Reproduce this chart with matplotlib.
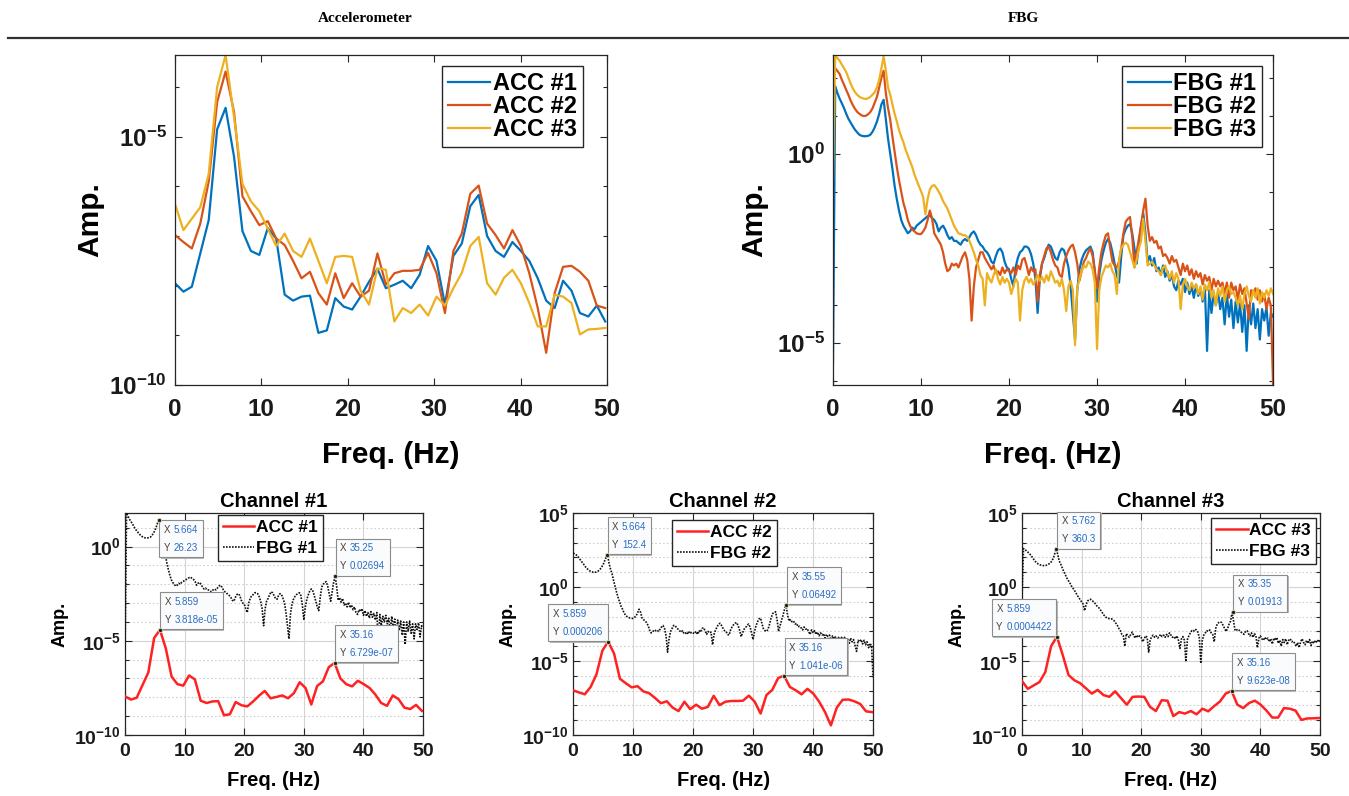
import numpy as np
import matplotlib
matplotlib.use("Agg")
import matplotlib.pyplot as plt
from matplotlib.patches import Rectangle
from matplotlib.transforms import Bbox, IdentityTransform
from matplotlib.ticker import FixedLocator, FuncFormatter, NullFormatter, NullLocator

plt.rcParams['font.family'] = ['Liberation Sans', 'DejaVu Sans']
plt.rcParams['mathtext.fontset'] = 'custom'
plt.rcParams['mathtext.bf'] = 'Liberation Sans:bold'
plt.rcParams['mathtext.rm'] = 'Liberation Sans:bold'

# ---- data (log10 of amplitude) ----
# accelerometer spectra, bin width 0.9766 Hz
acc_df = 0.9766
acc1_log = [-7.95, -8.12, -8.02, -7.35, -6.68, -4.85, -4.418, -5.4, -6.9, -7.3,
            -7.38, -6.84, -7.05, -8.18, -8.3, -8.22, -8.2, -8.95, -8.9, -8.25,
            -8.42, -8.48, -8.22, -7.92, -7.66, -8.05, -7.98, -7.9, -8.05, -7.78,
            -7.2, -7.5, -8.38, -7.4, -7.15, -6.4, -6.172, -7.0, -7.3, -7.42,
            -7.12, -7.3, -7.5, -7.85, -8.3, -8.45, -7.9, -8.1, -8.55, -8.62,
            -8.4, -8.72]
acc2_log = [-6.98, -7.12, -7.25, -6.75, -5.9, -4.3, -3.686, -4.5, -6.2, -6.5,
            -6.78, -6.7, -7.05, -7.18, -7.5, -7.85, -7.72, -8.15, -8.38, -7.75,
            -8.25, -7.95, -8.22, -8.1, -7.35, -7.98, -7.75, -7.7, -7.7, -7.68,
            -7.34, -7.75, -8.55, -7.3, -6.95, -6.15, -5.983, -6.75, -6.98, -7.25,
            -6.88, -7.2, -7.75, -8.45, -9.35, -8.15, -7.62, -7.6, -7.72, -7.9,
            -8.4, -8.45]
acc3_log = [-6.35, -6.88, -6.65, -6.42, -5.75, -4.0, -3.354, -4.6, -5.95, -6.3,
            -6.5, -6.85, -7.2, -6.95, -7.3, -7.42, -7.05, -7.5, -7.95, -7.42,
            -7.4, -7.42, -8.1, -8.38, -7.65, -7.68, -8.72, -8.45, -8.55, -8.38,
            -8.6, -8.22, -8.4, -8.05, -7.74, -7.2, -7.017, -7.95, -8.18, -7.84,
            -7.68, -7.95, -8.35, -8.82, -8.82, -8.18, -8.22, -8.35, -8.98, -8.88,
            -8.87, -8.85]

# FBG spectra, read every 0.25 Hz
fbg_df = 0.25
fbg1_log = [-5.5, 1.78, 1.6, 1.45, 1.33, 1.2, 1.05, 0.92, 0.82, 0.72, 0.63, 0.56, 0.5, 0.47, 0.46, 0.46, 0.47, 0.5, 0.58, 0.7,
            0.85, 1.05, 1.3, 1.419, 0.9, 0.4, 0.0, -0.4, -0.85, -1.2, -1.5, -1.75, -1.9, -2.0, -2.1, -2.05, -1.95, -2.0, -1.9, -1.85,
            -1.8, -1.75, -1.7, -1.65, -1.62, -1.7, -1.75, -1.85, -2.05, -1.95, -1.9, -2.0, -2.15, -2.25, -2.2, -2.3, -2.3, -2.35, -2.4, -2.3,
            -2.25, -2.3, -2.2, -2.1, -2.05, -2.15, -2.3, -2.4, -2.45, -2.55, -2.6, -2.7, -2.85, -2.9, -2.7, -2.55, -2.5, -2.6, -2.85, -3.0,
            -3.05, -3.3, -3.5, -3.0, -2.75, -2.6, -2.55, -2.45, -2.45, -2.5, -2.65, -2.9, -3.3, -4.2, -3.3, -2.9, -2.75, -2.55, -2.4, -2.45,
            -2.6, -2.75, -2.8, -2.6, -2.5, -2.55, -2.75, -3.0, -3.5, -4.2, -4.9, -3.6, -3.05, -2.8, -2.65, -2.55, -2.5, -2.45, -2.6, -3.1,
            -3.9, -3.2, -2.8, -2.55, -2.35, -2.25, -2.35, -2.6, -2.9, -3.2, -3.4, -2.7, -2.15, -2.0, -1.9, -1.86, -2.1, -2.5, -2.9, -2.4,
            -1.9, -1.57, -2.1, -2.85, -2.7, -2.95, -2.75, -3.1, -3.0, -3.2, -2.95, -3.25, -3.1, -3.35, -3.2, -3.5, -3.6, -3.35, -3.45, -3.3,
            -3.65, -3.4, -3.7, -3.5, -3.8, -3.45, -3.75, -3.55, -3.9, -3.5, -5.2, -3.6, -4.2, -3.7, -4.0, -3.65, -4.1, -3.8, -4.5, -3.7,
            -4.3, -3.85, -4.6, -3.9, -4.45, -3.95, -4.7, -4.0, -5.2, -4.0, -4.5, -3.95, -4.6, -4.1, -4.9, -4.1, -4.4, -4.05, -4.8, -4.2, -4.3]
fbg2_log = [2.28, 2.25, 2.18, 2.1, 1.95, 1.82, 1.68, 1.55, 1.4, 1.28, 1.18, 1.1, 1.05, 1.01, 0.99, 1.0, 1.04, 1.1, 1.2, 1.35,
            1.5, 1.75, 2.0, 2.183, 1.6, 1.2, 0.9, 0.45, 0.05, -0.35, -0.7, -1.0, -1.3, -1.5, -1.75, -1.9, -2.0, -2.05, -2.1, -2.12,
            -2.12, -2.05, -1.95, -1.75, -1.5, -1.7, -2.1, -2.2, -2.3, -2.4, -2.6, -2.9, -3.1, -3.05, -2.9, -2.95, -2.9, -3.0, -2.85, -2.7,
            -2.6, -2.8, -3.3, -4.4, -3.5, -3.0, -2.8, -2.6, -2.6, -2.75, -2.85, -2.95, -3.05, -2.95, -3.15, -3.1, -3.2, -3.0, -3.15, -3.05,
            -3.1, -3.15, -3.0, -3.2, -2.95, -3.05, -2.8, -2.75, -2.95, -3.2, -3.0, -3.1, -3.05, -3.9, -3.2, -2.9, -2.7, -2.5, -2.45, -2.6,
            -2.8, -2.95, -3.0, -3.2, -3.25, -2.9, -2.7, -2.55, -2.45, -2.4, -2.6, -2.9, -3.35, -3.1, -2.85, -2.75, -2.6, -2.5, -2.7, -3.1,
            -3.55, -3.0, -2.6, -2.35, -2.15, -2.1, -2.5, -2.85, -2.95, -3.0, -2.85, -2.5, -2.1, -1.8, -1.72, -1.67, -2.2, -3.0, -2.6, -2.25,
            -1.9, -1.5, -1.188, -1.9, -2.3, -2.2, -2.35, -2.3, -2.5, -2.45, -2.7, -2.65, -2.75, -2.9, -2.7, -2.85, -2.8, -3.0, -3.2, -2.9,
            -3.1, -2.95, -3.2, -3.05, -3.3, -3.1, -3.25, -3.15, -3.45, -3.2, -3.35, -3.25, -3.6, -3.3, -3.5, -3.35, -3.5, -3.4, -3.7, -3.4,
            -3.8, -3.4, -3.6, -3.5, -3.85, -3.45, -3.7, -3.55, -3.95, -4.35, -3.6, -3.7, -3.55, -3.85, -3.6, -3.9, -3.7, -4.1, -3.8, -4.0, -6.1]
fbg3_log = [-0.7, 2.6, 2.52, 2.45, 2.35, 2.25, 2.15, 2.0, 1.85, 1.72, 1.62, 1.55, 1.5, 1.47, 1.45, 1.44, 1.46, 1.5, 1.56, 1.62,
            1.75, 1.95, 2.25, 2.557, 2.2, 1.75, 1.55, 1.3, 1.05, 0.85, 0.62, 0.45, 0.3, 0.1, -0.05, -0.2, -0.35, -0.55, -0.7, -0.85,
            -0.99, -1.15, -1.6, -1.2, -0.95, -0.85, -0.83, -0.9, -1.0, -1.1, -1.25, -1.35, -1.45, -1.6, -1.75, -1.9, -2.0, -2.1, -2.12, -2.15,
            -2.15, -2.2, -2.3, -2.45, -2.6, -2.8, -2.95, -3.2, -3.3, -4.0, -3.15, -3.3, -3.4, -3.2, -3.05, -3.3, -3.45, -3.25, -3.4, -3.3,
            -3.4, -3.7, -3.5, -3.3, -3.4, -4.4, -3.6, -3.35, -3.25, -3.4, -3.3, -3.45, -3.35, -3.2, -3.35, -3.25, -3.4, -3.2, -3.35, -3.1,
            -3.25, -3.4, -3.35, -3.5, -3.3, -3.6, -4.15, -3.5, -3.35, -3.6, -5.05, -3.55, -3.3, -3.1, -2.95, -3.0, -2.85, -2.9, -3.05, -3.4,
            -5.15, -3.6, -3.25, -3.1, -2.95, -3.0, -2.9, -3.1, -3.2, -3.7, -2.8, -2.5, -2.4, -2.35, -2.4, -2.6, -2.8, -3.0, -2.8, -2.5,
            -2.3, -1.718, -2.3, -2.95, -2.9, -2.85, -2.95, -3.05, -3.1, -3.2, -3.0, -2.95, -3.15, -3.3, -3.1, -3.4, -3.15, -3.3, -4.1, -3.45,
            -3.3, -3.5, -3.6, -3.4, -3.55, -3.45, -3.7, -3.5, -3.85, -3.45, -3.6, -3.4, -3.8, -3.6, -4.0, -3.55, -3.75, -3.5, -3.9, -3.6,
            -3.5, -3.7, -3.65, -3.8, -4.0, -3.75, -4.1, -3.7, -3.5, -3.75, -3.9, -3.6, -3.8, -3.55, -3.95, -3.65, -3.8, -3.6, -3.75, -3.55, -3.7]

acc_labels = ['ACC #1', 'ACC #2', 'ACC #3']
fbg_labels = ['FBG #1', 'FBG #2', 'FBG #3']
channel_titles = ['Channel #1', 'Channel #2', 'Channel #3']

# data tips shown on the channel plots
tip_fbg_x = [5.664, 5.664, 5.762]
tip_fbg_y = [26.23, 152.4, 360.3]
tip_acc_x = [5.859, 5.859, 5.859]
tip_acc_y = [3.818e-05, 0.000206, 0.0004422]
tip_fbg2_x = [35.25, 35.55, 35.35]
tip_fbg2_y = [0.02694, 0.06492, 0.01913]
tip_acc2_x = [35.16, 35.16, 35.16]
tip_acc2_y = [6.729e-07, 1.041e-06, 9.623e-08]

acc_f = np.arange(len(acc1_log)) * acc_df
fbg_f = np.arange(len(fbg1_log)) * fbg_df
acc = [10 ** np.array(a) for a in (acc1_log, acc2_log, acc3_log)]
fbg = [10 ** np.array(a) for a in (fbg1_log, fbg2_log, fbg3_log)]

matlab_colors = ['#0072BD', '#D95319', '#EDB120']
AX_COL = '#262626'
tips = []


def pow_fmt(v, pos):
    return r'$\mathbf{10^{%d}}$' % int(round(np.log10(v)))


def style_axes(ax, major, minor, tick_size, label_size, xpad, ypad, xlpad, ylpad):
    ax.set_yscale('log')
    ax.set_xlim(0, 50)
    ax.xaxis.set_major_locator(FixedLocator([0, 10, 20, 30, 40, 50]))
    ax.xaxis.set_minor_locator(NullLocator())
    ax.yaxis.set_major_locator(FixedLocator(major))
    ax.yaxis.set_minor_locator(FixedLocator(minor))
    ax.yaxis.set_major_formatter(FuncFormatter(pow_fmt))
    ax.yaxis.set_minor_formatter(NullFormatter())
    ax.tick_params(which='both', direction='in', top=True, right=True, colors=AX_COL,
                   labelcolor='#1a1a1a', width=0.8)
    ax.tick_params(which='major', length=5, labelsize=tick_size)
    ax.tick_params(axis='x', which='major', pad=xpad)
    ax.tick_params(axis='y', which='major', pad=ypad)
    ax.tick_params(which='minor', length=3)
    for lab in ax.get_xticklabels():
        lab.set_fontweight('bold')
    for sp in ax.spines.values():
        sp.set_color(AX_COL)
        sp.set_linewidth(0.9)
    ax.set_xlabel('Freq. (Hz)', fontsize=label_size, fontweight='bold', labelpad=xlpad)
    ax.set_ylabel('Amp.', fontsize=label_size, fontweight='bold', labelpad=ylpad)


def datatip(ax, x, y, corner):
    ax.plot(x, y, 'o', ms=3, mfc='#1e1e1e', mec='#d8d8b0', mew=0.6, zorder=8)
    nums = '%.4g\n%.4g' % (x, y)
    kw = dict(fontsize=7, linespacing=2.0, zorder=7, textcoords='offset points')
    if corner == 'br':
        num = ax.annotate(nums, xy=(x, y), xytext=(-3.6, 3.6), ha='right', va='bottom',
                          ma='left', color='#2b6cc4', **kw)
        lab = ax.annotate('X\nY', xy=(0, 1), xycoords=num, xytext=(-2.5, 0), ha='right',
                          va='top', color='#4a4038', **kw)
    else:
        dy, va = (-3.6, 'top') if corner == 'tl' else (3.6, 'bottom')
        lab = ax.annotate('X\nY', xy=(x, y), xytext=(3.6, dy), ha='left', va=va,
                          color='#4a4038', **kw)
        num = ax.annotate(nums, xy=(1, 1), xycoords=lab, xytext=(2.5, 0), ha='left',
                          va='top', ma='left', color='#2b6cc4', **kw)
    tips.append((ax, lab, num))


fig = plt.figure(figsize=(13.49, 7.96), dpi=100)

# header row
fig.text(0.2706, 0.977, 'Accelerometer', ha='center', va='center', fontsize=11,
         fontweight='bold', family='Liberation Serif')
fig.text(0.759, 0.977, 'FBG', ha='center', va='center', fontsize=11,
         fontweight='bold', family='Liberation Serif')
fig.add_artist(plt.Line2D([0.006, 1.0], [0.952, 0.952], transform=fig.transFigure,
                          color='#303030', lw=1.6))

leg_top = dict(loc='upper right', fancybox=False, edgecolor=AX_COL, framealpha=1,
               handlelength=1.8, handletextpad=0.1, labelspacing=0.0, borderpad=0.25,
               borderaxespad=0, prop={'weight': 'bold', 'size': 17})

# top left: accelerometers
ax_acc = fig.add_axes([0.1297, 0.5163, 0.3202, 0.4146])
for k in range(3):
    ax_acc.plot(acc_f, acc[k], color=matlab_colors[k], lw=1.6, label=acc_labels[k])
style_axes(ax_acc, [1e-10, 1e-5], [10.0 ** e for e in range(-10, -2)], 17.5, 21.5, 9, 6, 15, 4)
ax_acc.set_ylim(1e-10, max(a.max() for a in acc))
leg = ax_acc.legend(bbox_to_anchor=(0.944, 0.967), **leg_top)
leg.get_frame().set_linewidth(1.0)

# top right: FBGs
ax_fbg = fig.add_axes([0.6175, 0.5163, 0.3262, 0.4146])
for k in range(3):
    ax_fbg.plot(fbg_f, fbg[k], color=matlab_colors[k], lw=1.6, label=fbg_labels[k])
style_axes(ax_fbg, [1e-5, 1e0], [10.0 ** e for e in range(-6, 3)], 17.5, 21.5, 9, 6, 15, 6)
ax_fbg.set_ylim(min(a.min() for a in fbg), max(a.max() for a in fbg))
leg = ax_fbg.legend(bbox_to_anchor=(0.975, 0.967), **leg_top)
leg.get_frame().set_linewidth(1.0)

# bottom row: one channel per panel
ch_pos = [[0.0927, 0.0766, 0.2209, 0.2789],
          [0.4248, 0.0766, 0.2224, 0.2789],
          [0.7576, 0.0766, 0.2209, 0.2789]]
ch_leg_anchor = [(0.664, 0.991), (0.68, 0.968), (0.987, 0.977)]
ch_ylim_top = [fbg[0].max(), 1e5, 1e5]
ch_major = [[1e-10, 1e-5, 1e0], [1e-10, 1e-5, 1e0, 1e5], [1e-10, 1e-5, 1e0, 1e5]]
fbg_tip_corner = ['tl', 'bl', 'bl']
acc_tip_corner = ['bl', 'br', 'br']

for k in range(3):
    ax = fig.add_axes(ch_pos[k])
    ax.plot(acc_f, acc[k], color='#ff2222', lw=1.8, label=acc_labels[k], zorder=3)
    ax.plot(fbg_f, fbg[k], color='#111111', lw=1.2, ls=(0, (1, 0.8)), label=fbg_labels[k], zorder=3)
    style_axes(ax, ch_major[k], [10.0 ** e for e in range(-10, 6)], 14, 14.5, 6, 3, 8, 4)
    ax.set_ylim(1e-10, ch_ylim_top[k])
    ax.yaxis.label.set_size(13)
    ax.grid(True, which='major', color='#d4d4d4', lw=0.8, zorder=0)
    ax.grid(True, which='minor', axis='y', color='#cfcfcf', lw=0.8, ls=(0, (1.5, 2)), zorder=0)
    ax.set_axisbelow(True)
    ax.set_title(channel_titles[k], fontsize=14.5, fontweight='bold', pad=4)
    leg = ax.legend(loc='upper right', bbox_to_anchor=ch_leg_anchor[k], fancybox=False,
                    edgecolor=AX_COL, framealpha=1, handlelength=1.8, handletextpad=0.1,
                    labelspacing=0.3, borderpad=0.3, borderaxespad=0,
                    prop={'weight': 'bold', 'size': 12.5})
    leg.get_frame().set_linewidth(1.0)
    leg.set_zorder(5)
    datatip(ax, tip_fbg_x[k], tip_fbg_y[k], fbg_tip_corner[k])
    datatip(ax, tip_acc_x[k], tip_acc_y[k], acc_tip_corner[k])
    datatip(ax, tip_fbg2_x[k], tip_fbg2_y[k], 'bl')
    datatip(ax, tip_acc2_x[k], tip_acc2_y[k], 'bl')

# boxes round the data tips, sized from the rendered text, with a light shadow
fig.canvas.draw()
renderer = fig.canvas.get_renderer()
p = 4.5
for ax, lab, num in tips:
    bb = Bbox.union([lab.get_window_extent(renderer), num.get_window_extent(renderer)])
    x0, y0 = bb.x0 - p, bb.y0 - p
    w, h = bb.width + 2 * p, bb.height + 2 * p
    ax.add_patch(Rectangle((x0 + 1.5, y0 - 1.5), w, h, transform=IdentityTransform(),
                           fc='#b8b8b8', ec='none', zorder=6.4, clip_on=False))
    ax.add_patch(Rectangle((x0, y0), w, h, transform=IdentityTransform(), fc='#fafbfc',
                           ec='#8c8c8c', lw=0.8, zorder=6.5, clip_on=False))

fig.savefig('out.png', dpi=100)
